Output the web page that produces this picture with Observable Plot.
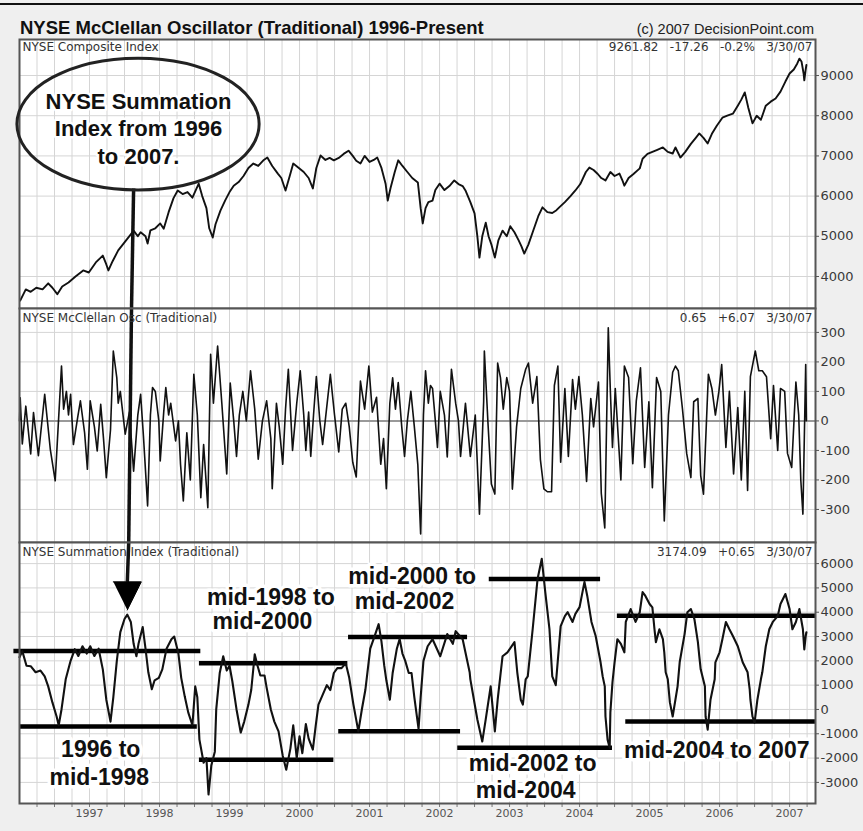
<!DOCTYPE html>
<html><head><meta charset="utf-8">
<script src="https://cdn.jsdelivr.net/npm/d3@7"></script>
<script src="https://cdn.jsdelivr.net/npm/@observablehq/plot@0.6"></script>
<style>
body{margin:0;background:#efefef;}
#chart{position:relative;width:863px;height:831px;background:#efefef;overflow:hidden;font-family:"Liberation Sans",Arial,sans-serif;}
#topline{position:absolute;left:0;top:3px;width:863px;height:2px;background:#111;}
#title{position:absolute;left:20px;top:19px;font-weight:bold;font-size:18.5px;line-height:1;color:#111;white-space:nowrap;}
#copy{position:absolute;right:49px;top:22px;font-size:14.5px;line-height:1;color:#222;white-space:nowrap;}
.panel{position:absolute;left:0;}
</style></head><body>
<div id="chart">
  <div id="topline"></div>
  <div id="title">NYSE McClellan Oscillator (Traditional) 1996-Present</div>
  <div id="copy">(c) 2007 DecisionPoint.com</div>
</div>
<script>
// ---------------- data (decimal year, value) ----------------
const yearTicks = [1997,1998,1999,2000,2001,2002,2003,2004,2005,2006,2007];
const compTicks = [4000,5000,6000,7000,8000,9000];
const oscTicks = [-300,-200,-100,0,100,200,300];
const sumTicks = [-3000,-2000,-1000,0,1000,2000,3000,4000,5000,6000];

const panelLabels = ["NYSE Composite Index","NYSE McClellan Osc (Traditional)","NYSE Summation Index (Traditional)"];
const panelValues = ["9261.82\u00a0\u00a0\u00a0-17.26\u00a0\u00a0\u00a0-0.2%\u00a0\u00a0\u00a03/30/07","0.65\u00a0\u00a0\u00a0+6.07\u00a0\u00a0\u00a03/30/07","3174.09\u00a0\u00a0\u00a0+0.65\u00a0\u00a0\u00a03/30/07"];

const composite = [[1996.01,3400],[1996.09,3680],[1996.16,3620],[1996.24,3720],[1996.33,3680],[1996.41,3830],[1996.47,3720],[1996.54,3560],[1996.61,3750],[1996.70,3850],[1996.80,4000],[1996.91,4150],[1996.99,4100],[1997.09,4350],[1997.19,4520],[1997.24,4300],[1997.27,4150],[1997.33,4380],[1997.41,4650],[1997.50,4850],[1997.59,5050],[1997.63,5140],[1997.69,5000],[1997.73,5100],[1997.80,5000],[1997.83,4820],[1997.87,5150],[1997.94,5200],[1998.01,5320],[1998.06,5190],[1998.13,5600],[1998.20,5950],[1998.26,6140],[1998.33,6050],[1998.40,6100],[1998.47,5960],[1998.56,6310],[1998.61,6000],[1998.67,5700],[1998.71,5200],[1998.76,4970],[1998.80,5300],[1998.87,5640],[1998.94,5900],[1999.00,6100],[1999.06,6260],[1999.13,6350],[1999.20,6500],[1999.27,6700],[1999.34,6810],[1999.41,6750],[1999.49,6900],[1999.54,6960],[1999.61,6750],[1999.69,6560],[1999.74,6450],[1999.80,6140],[1999.86,6500],[1999.91,6810],[1999.99,6700],[2000.06,6600],[2000.13,6450],[2000.19,6190],[2000.24,6700],[2000.30,7010],[2000.37,6900],[2000.43,6950],[2000.49,6890],[2000.56,6950],[2000.63,7050],[2000.70,7130],[2000.76,7000],[2000.81,6880],[2000.87,6810],[2000.93,7000],[2001.00,6850],[2001.06,6900],[2001.11,6960],[2001.17,6700],[2001.23,6300],[2001.26,5890],[2001.30,6200],[2001.36,6600],[2001.41,6890],[2001.47,6750],[2001.54,6600],[2001.61,6450],[2001.69,6340],[2001.73,5700],[2001.76,5320],[2001.80,5700],[2001.84,5850],[2001.90,5890],[2001.94,6150],[2002.00,6310],[2002.07,6150],[2002.14,6250],[2002.21,6390],[2002.27,6300],[2002.33,6250],[2002.37,6140],[2002.44,5850],[2002.50,5570],[2002.54,5000],[2002.57,4470],[2002.61,5000],[2002.66,5340],[2002.70,5000],[2002.74,4800],[2002.79,4470],[2002.84,4900],[2002.90,5140],[2002.96,5000],[2003.01,5250],[2003.07,5100],[2003.13,4900],[2003.17,4750],[2003.21,4570],[2003.27,4800],[2003.34,5150],[2003.41,5500],[2003.47,5720],[2003.54,5600],[2003.61,5580],[2003.67,5650],[2003.71,5720],[2003.79,5850],[2003.87,6000],[2003.94,6140],[2004.01,6300],[2004.09,6600],[2004.14,6710],[2004.20,6650],[2004.26,6550],[2004.31,6450],[2004.37,6390],[2004.44,6600],[2004.50,6500],[2004.57,6560],[2004.61,6400],[2004.64,6260],[2004.70,6450],[2004.77,6550],[2004.86,6690],[2004.90,6930],[2004.97,7050],[2005.04,7100],[2005.11,7150],[2005.19,7210],[2005.26,7100],[2005.33,7060],[2005.37,7210],[2005.44,6960],[2005.51,7100],[2005.59,7300],[2005.66,7450],[2005.71,7560],[2005.77,7450],[2005.83,7310],[2005.89,7550],[2005.96,7750],[2006.04,7950],[2006.11,8000],[2006.19,8050],[2006.26,8250],[2006.31,8400],[2006.36,8580],[2006.41,8200],[2006.47,7810],[2006.53,8000],[2006.59,7900],[2006.66,8250],[2006.73,8350],[2006.80,8430],[2006.87,8600],[2006.94,8850],[2007.00,9050],[2007.06,9150],[2007.11,9300],[2007.14,9420],[2007.17,9350],[2007.20,9050],[2007.21,8880],[2007.23,9150],[2007.24,9262]];

const oscillator = [[1996.00,0],[1996.01,78],[1996.04,-78],[1996.09,50],[1996.16,-112],[1996.20,28],[1996.27,-118],[1996.36,90],[1996.44,-96],[1996.51,-203],[1996.60,186],[1996.63,40],[1996.67,100],[1996.70,20],[1996.73,90],[1996.77,-80],[1996.83,10],[1996.87,68],[1996.93,-40],[1996.97,-164],[1997.01,68],[1997.07,-20],[1997.11,-102],[1997.16,56],[1997.20,-60],[1997.24,-192],[1997.30,-30],[1997.34,237],[1997.39,146],[1997.41,60],[1997.44,100],[1997.51,-45],[1997.57,30],[1997.63,-170],[1997.69,20],[1997.73,90],[1997.77,-50],[1997.83,-288],[1997.87,20],[1997.90,113],[1997.94,100],[1997.99,0],[1998.01,-136],[1998.06,30],[1998.09,113],[1998.13,20],[1998.16,60],[1998.23,-68],[1998.27,0],[1998.30,-147],[1998.34,-271],[1998.39,-40],[1998.44,-200],[1998.49,158],[1998.54,20],[1998.59,-260],[1998.63,-80],[1998.69,-294],[1998.73,226],[1998.77,60],[1998.83,254],[1998.89,60],[1998.96,-180],[1999.01,128],[1999.06,0],[1999.10,-120],[1999.14,20],[1999.19,100],[1999.24,0],[1999.30,170],[1999.36,40],[1999.41,-130],[1999.47,0],[1999.53,68],[1999.59,-60],[1999.61,-230],[1999.67,60],[1999.71,-20],[1999.76,-147],[1999.80,40],[1999.84,175],[1999.90,-100],[1999.96,60],[2000.01,170],[2000.06,20],[2000.09,-100],[2000.13,30],[2000.16,-120],[2000.20,20],[2000.24,150],[2000.29,0],[2000.33,-80],[2000.39,50],[2000.44,158],[2000.50,20],[2000.56,-105],[2000.61,40],[2000.66,60],[2000.71,-20],[2000.76,-140],[2000.81,-190],[2000.87,135],[2000.93,40],[2000.99,186],[2001.04,30],[2001.10,80],[2001.16,-147],[2001.20,-60],[2001.24,-230],[2001.29,60],[2001.33,146],[2001.37,40],[2001.41,130],[2001.46,-20],[2001.50,-120],[2001.54,0],[2001.59,100],[2001.64,-20],[2001.69,-150],[2001.73,-383],[2001.77,20],[2001.80,170],[2001.84,60],[2001.87,120],[2001.90,110],[2001.94,0],[2001.97,-90],[2002.01,100],[2002.07,20],[2002.11,-122],[2002.17,175],[2002.23,60],[2002.27,0],[2002.30,-120],[2002.37,60],[2002.44,-120],[2002.51,20],[2002.57,-316],[2002.63,65],[2002.64,237],[2002.69,0],[2002.74,-214],[2002.79,-248],[2002.83,196],[2002.87,147],[2002.91,40],[2002.96,147],[2003.00,100],[2003.04,-231],[2003.10,-20],[2003.16,110],[2003.23,175],[2003.27,196],[2003.33,60],[2003.39,150],[2003.44,-130],[2003.49,-230],[2003.54,-240],[2003.60,-240],[2003.64,120],[2003.69,186],[2003.73,-140],[2003.79,110],[2003.84,-120],[2003.90,140],[2003.94,40],[2003.99,150],[2004.04,20],[2004.10,-205],[2004.16,76],[2004.20,-20],[2004.27,132],[2004.31,-245],[2004.36,-363],[2004.41,316],[2004.44,100],[2004.47,-90],[2004.51,110],[2004.59,-200],[2004.64,186],[2004.70,147],[2004.76,-145],[2004.81,68],[2004.87,180],[2004.93,-158],[2004.99,65],[2005.04,-226],[2005.10,147],[2005.16,100],[2005.21,-339],[2005.27,20],[2005.33,165],[2005.37,186],[2005.41,170],[2005.47,40],[2005.53,-110],[2005.59,-192],[2005.63,65],[2005.69,76],[2005.73,-185],[2005.77,-248],[2005.84,158],[2005.89,110],[2005.94,20],[2005.99,100],[2006.03,191],[2006.09,-90],[2006.14,100],[2006.20,-180],[2006.26,45],[2006.31,-200],[2006.36,100],[2006.40,-236],[2006.44,150],[2006.51,237],[2006.56,170],[2006.61,170],[2006.67,150],[2006.73,-60],[2006.77,120],[2006.83,-100],[2006.87,110],[2006.93,100],[2006.97,-110],[2007.03,-158],[2007.09,132],[2007.13,20],[2007.16,-200],[2007.19,-316],[2007.23,191],[2007.24,1]];

const summation = [[1996.00,2150],[1996.04,2400],[1996.10,1800],[1996.16,1780],[1996.23,1530],[1996.30,1600],[1996.36,1360],[1996.41,950],[1996.47,290],[1996.53,-290],[1996.56,-650],[1996.60,0],[1996.66,1240],[1996.73,2000],[1996.79,2480],[1996.84,2200],[1996.90,2600],[1996.96,2300],[1997.01,2600],[1997.07,2200],[1997.13,2500],[1997.19,1650],[1997.24,400],[1997.30,-500],[1997.34,500],[1997.39,2000],[1997.44,3180],[1997.50,3720],[1997.54,3900],[1997.59,3600],[1997.63,2700],[1997.67,2190],[1997.70,2700],[1997.76,3390],[1997.80,2500],[1997.84,1530],[1997.89,830],[1997.93,1200],[1997.99,1300],[1998.04,1650],[1998.10,2500],[1998.17,2890],[1998.21,3000],[1998.27,2300],[1998.31,1300],[1998.36,540],[1998.41,-120],[1998.47,-650],[1998.51,950],[1998.54,500],[1998.57,-1240],[1998.63,-2190],[1998.67,-2000],[1998.70,-3500],[1998.74,-2300],[1998.79,-1735],[1998.81,0],[1998.86,1500],[1998.91,2190],[1998.96,1600],[1999.00,1800],[1999.04,1160],[1999.10,0],[1999.16,-950],[1999.21,-500],[1999.27,200],[1999.31,800],[1999.36,2270],[1999.40,1800],[1999.44,1400],[1999.50,1400],[1999.53,900],[1999.59,0],[1999.64,-500],[1999.70,-900],[1999.76,-1900],[1999.81,-2480],[1999.87,-1600],[1999.91,-650],[1999.96,-2000],[2000.00,-1100],[2000.04,-1800],[2000.09,-600],[2000.13,-1200],[2000.19,-1650],[2000.23,-700],[2000.27,200],[2000.33,600],[2000.39,1000],[2000.44,800],[2000.49,1500],[2000.54,1700],[2000.60,1700],[2000.66,1900],[2000.71,1300],[2000.77,200],[2000.84,-900],[2000.89,0],[2000.94,800],[2001.01,2500],[2001.07,3000],[2001.13,3510],[2001.17,2800],[2001.21,1800],[2001.24,1200],[2001.29,400],[2001.33,1500],[2001.39,2500],[2001.43,2900],[2001.47,2300],[2001.51,2000],[2001.56,1500],[2001.60,1500],[2001.64,500],[2001.70,-800],[2001.73,500],[2001.77,2000],[2001.83,2600],[2001.90,2890],[2002.01,2190],[2002.11,3100],[2002.19,2700],[2002.23,3220],[2002.33,2890],[2002.43,1530],[2002.44,1240],[2002.54,-413],[2002.61,-1320],[2002.66,-400],[2002.73,950],[2002.79,-900],[2002.83,400],[2002.90,2190],[2002.97,2350],[2003.07,2770],[2003.11,1530],[2003.16,400],[2003.19,200],[2003.23,1240],[2003.26,1360],[2003.33,3300],[2003.40,5370],[2003.46,6200],[2003.51,4830],[2003.57,3300],[2003.61,1360],[2003.66,1000],[2003.73,3430],[2003.79,3840],[2003.83,4000],[2003.90,3600],[2003.94,3930],[2004.00,4210],[2004.07,5250],[2004.11,4670],[2004.17,3600],[2004.23,3020],[2004.30,1940],[2004.33,1360],[2004.36,950],[2004.37,-290],[2004.40,-1240],[2004.43,-1570],[2004.44,-120],[2004.47,1120],[2004.50,1940],[2004.54,2890],[2004.59,2700],[2004.64,2350],[2004.66,3600],[2004.73,4130],[2004.80,3600],[2004.86,4000],[2004.90,4830],[2004.94,4670],[2005.00,4340],[2005.04,4200],[2005.07,3300],[2005.09,2770],[2005.14,3300],[2005.19,2890],[2005.21,2350],[2005.23,1530],[2005.26,1240],[2005.29,290],[2005.33,-290],[2005.40,950],[2005.43,1940],[2005.50,3100],[2005.54,4000],[2005.59,4130],[2005.64,3720],[2005.69,2770],[2005.71,2190],[2005.73,1650],[2005.79,950],[2005.80,-290],[2005.83,-830],[2005.87,400],[2005.93,1240],[2005.94,1940],[2006.00,2350],[2006.04,2890],[2006.09,3600],[2006.14,3300],[2006.19,3020],[2006.26,2600],[2006.33,1940],[2006.40,1530],[2006.43,830],[2006.44,400],[2006.47,-290],[2006.50,-540],[2006.54,400],[2006.59,1240],[2006.61,1530],[2006.66,2600],[2006.71,3300],[2006.76,3600],[2006.83,3840],[2006.87,4340],[2006.94,4750],[2007.00,4130],[2007.04,3300],[2007.09,3600],[2007.14,4130],[2007.19,3300],[2007.21,2470],[2007.23,3020],[2007.24,3174]];

// horizontal support / resistance bands drawn on the Summation Index
const levelFrom  = [1995.92, 1996.00, 1998.57, 1998.57, 2000.70, 2000.56, 2002.71, 2002.26, 2004.54, 2004.66];
const levelTo    = [1998.59, 1998.54, 2000.69, 2000.49, 2002.40, 2002.30, 2004.30, 2004.47, 2007.37, 2007.37];
const levelValue = [2400, -700, 1900, -2070, 2980, -900, 5370, -1570, 3850, -500];

// annotation text lines (centre year, baseline value)
const noteText  = ["1996 to","mid-1998","mid-1998 to","mid-2000","mid-2000 to","mid-2002","mid-2002 to","mid-2004","mid-2004 to 2007"];
const noteYear  = [1997.16, 1997.14, 1999.59, 1999.47, 2001.61, 2001.50, 2003.33, 2003.23, 2005.96];
const noteValue = [-1942, -3099, 4298, 3306, 5165, 4132, -2550, -3636, -1983];

// callout ellipse on the Composite panel
const calloutText = ["NYSE Summation","Index from 1996","to 2007."];
const calloutYear = 1997.70;
const calloutValue = [8179, 7507, 6811];
const ellipseCenter = [1997.70, 7780];
const ellipseHalf = [1.73, 1640];   // half width (years), half height (index points)

// arrow from the callout down to the 1997 Summation peak
const arrowYear  = [1997.63, 1997.60, 1997.56, 1997.54];
const arrowHead  = [[1997.34, 5250], [1997.74, 5250], [1997.54, 4090]];

// ---------------- layout ----------------
const W = 863, ML = 19, MR = 48;
const xDomain = [1996, 2007.37];
const quarters = d3.range(1996.25, 2007.3, 0.25);
const gridColor = "#d5d5d5";
const frameColor = "#555";
const font = "DejaVu Sans, Verdana, sans-serif";
const boldFont = "Liberation Sans, Arial, sans-serif";

const compDomain = [3204, 9896];
const oscDomain = [-412, 381];
const sumDomain = [-3868, 6868];

function baseOpts(h, mb) {
  return {
    width: W, height: h + mb, marginLeft: ML, marginRight: MR, marginTop: 0, marginBottom: mb,
    style: {background: "transparent", overflow: "visible", fontFamily: font, fontSize: "13px", color: "#333"},
    x: {domain: xDomain, axis: null},
  };
}
function labelMarks(i, dy) {
  return [
    Plot.text([panelLabels[i]], {text: d => d, frameAnchor: "top-left", dx: 3, dy: dy, fontSize: 12, fill: "#333", fontFamily: font}),
    Plot.text([panelValues[i]], {text: d => d, frameAnchor: "top-right", dx: -3, dy: dy, fontSize: 12, fill: "#333", fontFamily: font})
  ];
}
function yAxis(ticks) {
  return Plot.axisY(ticks, {anchor: "right", tickSize: 3, tickPadding: 2, fontSize: 13, fill: "#3a3a3a", stroke: "#555", label: null, tickFormat: d => String(d)});
}

const chart = document.getElementById("chart");

// Panel 1 : NYSE Composite
const p1 = Plot.plot({
  ...baseOpts(269, 0),
  y: {domain: compDomain, axis: null},
  marks: [
    Plot.frame({fill: "white"}),
    Plot.ruleX(quarters, {stroke: gridColor}),
    Plot.ruleY(compTicks, {stroke: gridColor}),
    Plot.line(composite, {x: d => d[0], y: d => d[1], stroke: "#111", strokeWidth: 1.9}),
    Plot.link([0], {x1: () => arrowYear[0], y1: () => 6189, x2: () => arrowYear[1], y2: () => compDomain[0], stroke: "#111", strokeWidth: 3.5}),
    Plot.text(calloutText.map((t, i) => ({t, v: calloutValue[i]})), {x: () => calloutYear, y: "v", text: "t", lineAnchor: "bottom", textAnchor: "middle", fontSize: 22, fontWeight: "bold", fontFamily: boldFont, fill: "#111", stroke: "white", strokeWidth: 5}),
    ...labelMarks(0, 3),
    yAxis(compTicks),
    Plot.frame({stroke: frameColor, strokeWidth: 2})
  ]
});
p1.classList.add("panel"); p1.style.top = "39px";
chart.appendChild(p1);
{
  const sx = p1.scale("x"), sy = p1.scale("y");
  const cx = sx.apply(ellipseCenter[0]), cy = sy.apply(ellipseCenter[1]);
  const rx = sx.apply(ellipseCenter[0] + ellipseHalf[0]) - cx;
  const ry = cy - sy.apply(ellipseCenter[1] + ellipseHalf[1]);
  d3.select(p1).append("ellipse").attr("cx", cx).attr("cy", cy).attr("rx", rx).attr("ry", ry)
    .attr("fill", "none").attr("stroke", "#222").attr("stroke-width", 3);
}

// Panel 2 : McClellan Oscillator
const p2 = Plot.plot({
  ...baseOpts(234, 0),
  y: {domain: oscDomain, axis: null},
  marks: [
    Plot.frame({fill: "white"}),
    Plot.ruleX(quarters, {stroke: gridColor}),
    Plot.ruleY(oscTicks.filter(d => d !== 0), {stroke: gridColor}),
    Plot.ruleY([0], {stroke: "#999", strokeWidth: 2}),
    Plot.line(oscillator, {x: d => d[0], y: d => d[1], stroke: "#111", strokeWidth: 1.6}),
    Plot.link([0], {x1: () => arrowYear[1], y1: () => oscDomain[1], x2: () => arrowYear[2], y2: () => oscDomain[0], stroke: "#111", strokeWidth: 3.5}),
    ...labelMarks(1, 5),
    yAxis(oscTicks),
    Plot.frame({stroke: frameColor, strokeWidth: 2})
  ]
});
p2.classList.add("panel"); p2.style.top = "308px";
chart.appendChild(p2);

// Panel 3 : Summation Index
const levels = levelValue.map((v, i) => ({v, a: levelFrom[i], b: levelTo[i]}));
const notes = noteText.map((t, i) => ({t, x: noteYear[i], y: noteValue[i]}));
const p3 = Plot.plot({
  ...baseOpts(261, 30),
  y: {domain: sumDomain, axis: null},
  marks: [
    Plot.frame({fill: "white"}),
    Plot.ruleX(quarters, {stroke: gridColor}),
    Plot.ruleY(sumTicks, {stroke: gridColor}),
    Plot.text(notes, {x: "x", y: "y", text: "t", lineAnchor: "bottom", textAnchor: "middle", fontSize: 23, fontWeight: "bold", fontFamily: boldFont, fill: "#111", stroke: "white", strokeWidth: 7}),
    Plot.ruleY(levels, {y: "v", x1: "a", x2: "b", stroke: "#000", strokeWidth: 4.5, clip: false}),
    Plot.line(summation, {x: d => d[0], y: d => d[1], stroke: "#111", strokeWidth: 2.1}),
    Plot.link([0], {x1: () => arrowYear[2], y1: () => sumDomain[1], x2: () => arrowYear[3], y2: () => arrowHead[0][1], stroke: "#111", strokeWidth: 3.5}),
    Plot.line(arrowHead, {x: d => d[0], y: d => d[1], fill: "#000", stroke: "#000", strokeWidth: 1}),
    ...labelMarks(2, 5),
    yAxis(sumTicks),
    Plot.axisX(quarters, {anchor: "bottom", tickSize: 4, tickPadding: 2, fontSize: 11, fill: "#555", stroke: "#777", label: null, tickFormat: d => Number.isInteger(d) ? String(d) : ""}),
    Plot.frame({stroke: frameColor, strokeWidth: 2})
  ]
});
p3.classList.add("panel"); p3.style.top = "542px";
chart.appendChild(p3);
</script>
</body></html>
